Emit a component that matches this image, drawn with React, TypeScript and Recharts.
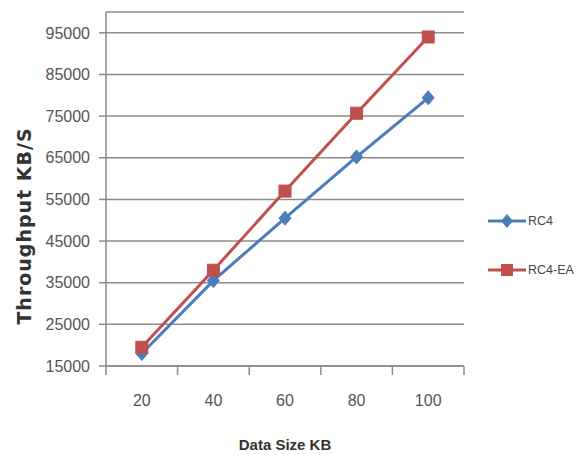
import { CartesianGrid, Legend, Line, LineChart, XAxis, YAxis } from 'recharts';

const sizes = [20, 40, 60, 80, 100];
const rc4 = [18000, 35500, 50500, 65200, 79400];
const rc4ea = [19500, 38000, 57000, 75700, 94000];
const yTicks = [15000, 25000, 35000, 45000, 55000, 65000, 75000, 85000, 95000];
// odd values mark the category boundaries, even ones carry labels
const xTicks = [10, 20, 30, 40, 50, 60, 70, 80, 90, 100, 110];

const data = sizes.map((s, i) => ({ size: s, rc4: rc4[i], rc4ea: rc4ea[i] }));

const BLUE = '#4a7ebb';
const RED = '#c0504d';
const AXIS = '#8c8c8c';
const FONT = '"Liberation Sans", Arial, sans-serif';

function XTick(props: any) {
  const { x, y, payload } = props;
  const v = payload.value as number;
  if (v % 20 === 0) {
    return (
      <text x={x} y={y + 34} textAnchor="middle" dominantBaseline="central" fontSize={16} fill="#555" fontFamily={FONT}>
        {v}
      </text>
    );
  }
  return <line x1={x} x2={x} y1={y} y2={y + 9} stroke={AXIS} strokeWidth={1.5} />;
}

function Diamond(props: any) {
  const { cx, cy, index } = props;
  if (cx == null || cy == null) return <g key={`rd-${index}`} />;
  return (
    <path
      key={`rd-${index}`}
      d={`M${cx},${cy - 7} L${cx + 6},${cy} L${cx},${cy + 7} L${cx - 6},${cy} Z`}
      fill={BLUE}
      stroke={BLUE}
    />
  );
}

function Square(props: any) {
  const { cx, cy, index } = props;
  if (cx == null || cy == null) return <g key={`ea-${index}`} />;
  return <rect key={`ea-${index}`} x={cx - 6} y={cy - 6} width={12} height={12} fill={RED} stroke={RED} />;
}

function LegendBox() {
  const items = [
    { name: 'RC4', color: BLUE, marker: 'diamond' },
    { name: 'RC4-EA', color: RED, marker: 'square' },
  ];
  return (
    <div style={{ fontFamily: FONT, fontSize: 12.5, color: '#444' }}>
      {items.map((it, i) => (
        <div key={it.name} style={{ display: 'flex', alignItems: 'center', height: 20, marginTop: i ? 29 : 0 }}>
          <svg width={38} height={16} style={{ marginRight: 2 }}>
            <line x1={0} x2={38} y1={8} y2={8} stroke={it.color} strokeWidth={3} />
            {it.marker === 'diamond' ? (
              <path d="M19,1 L25,8 L19,15 L13,8 Z" fill={it.color} />
            ) : (
              <rect x={13} y={2} width={12} height={12} fill={it.color} />
            )}
          </svg>
          <span>{it.name}</span>
        </div>
      ))}
    </div>
  );
}

export default function App() {
  return (
    <div style={{ position: 'relative', width: 580, height: 455, background: '#fff' }}>
      <style>{'body{margin:0}'}</style>
      <LineChart width={580} height={455} data={data} margin={{ top: 12, right: 116, bottom: 49, left: 46 }}>
        <CartesianGrid vertical={false} stroke={AXIS} strokeWidth={1.5} />
        <XAxis
          dataKey="size"
          type="number"
          domain={[10, 110]}
          ticks={xTicks}
          interval={0}
          tickSize={0}
          tickMargin={0}
          tickLine={false}
          height={40}
          stroke={AXIS}
          strokeWidth={1.5}
          tick={<XTick />}
        />
        <YAxis
          domain={[15000, 100000]}
          ticks={yTicks}
          interval={0}
          width={60}
          tickSize={7}
          tickMargin={9}
          stroke={AXIS}
          strokeWidth={1.5}
          tick={{ fontSize: 16, fill: '#555', fontFamily: FONT }}
        />
        {/* center + middle keeps the legend from shrinking the plot; placed by wrapperStyle */}
        <Legend
          layout="horizontal"
          align="center"
          verticalAlign="middle"
          content={<LegendBox />}
          wrapperStyle={{ left: 488, top: 211, width: 90 }}
        />
        <Line
          dataKey="rc4"
          name="RC4"
          stroke={BLUE}
          strokeWidth={3}
          dot={Diamond}
          activeDot={false}
          isAnimationActive={false}
        />
        <Line
          dataKey="rc4ea"
          name="RC4-EA"
          stroke={RED}
          strokeWidth={3}
          dot={Square}
          activeDot={false}
          isAnimationActive={false}
        />
      </LineChart>
      <div
        style={{
          position: 'absolute',
          left: 24,
          top: 226,
          transform: 'translate(-50%, -50%) rotate(-90deg)',
          whiteSpace: 'nowrap',
          fontFamily: '"DejaVu Sans", sans-serif',
          fontWeight: 'bold',
          fontSize: 19,
          letterSpacing: 1,
          color: '#333',
        }}
      >
        Throughput KB/S
      </div>
      <div
        style={{
          position: 'absolute',
          left: 285,
          top: 444,
          transform: 'translate(-50%, -50%)',
          whiteSpace: 'nowrap',
          fontFamily: FONT,
          fontWeight: 'bold',
          fontSize: 15,
          color: '#333',
        }}
      >
        Data Size KB
      </div>
    </div>
  );
}
